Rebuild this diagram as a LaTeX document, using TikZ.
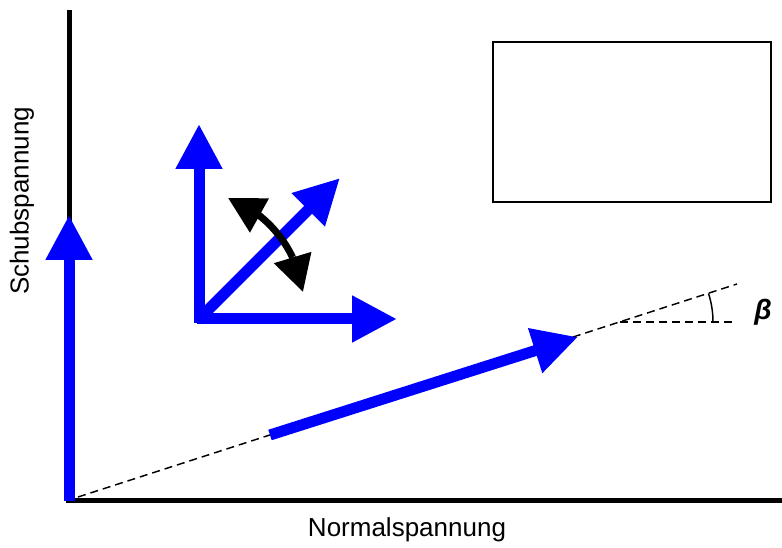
\documentclass[tikz,border=0pt]{standalone}
\usepackage{fontspec}
\setmainfont{Liberation Sans}
\usetikzlibrary{arrows.meta}

\begin{document}
\begin{tikzpicture}[x=0.75pt, y=-0.75pt, font=\fontsize{19.5}{22}\selectfont,
    vec/.style={blue, line width=8.25pt, -{Triangle[length=33.75pt, width=33pt]}},
    achse/.style={line width=3.75pt},
    hilfs/.style={line width=1.1pt, dash pattern=on 6pt off 3.75pt},
    drehspitze/.style={line width=5.25pt, -{Triangle[length=27pt, width=28pt]}}]
    \useasboundingbox (0,0) rectangle (782,548);

    % Achsen
    \coordinate (ursprung) at (69,501);
    \coordinate (yende) at (69,10);
    \coordinate (xende) at (782,501);
    \draw[achse] (yende) -- (ursprung);
    \draw[achse] ([xshift=-2.5pt]ursprung) -- (xende);
    \node[rotate=90] (ylabel) at (22,201) {Schubspannung};
    \node (xlabel) at (407,530) {Normalspannung};

    % Schubspannung-Vektor
    \coordinate (tauspitze) at (69,215);
    \draw[vec] (ursprung) -- (tauspitze);

    % Gerade und Winkel beta
    \coordinate (gstart) at (78,497);
    \coordinate (gende) at (737,284);
    \coordinate (wscheitel) at (620,322);
    \coordinate (hende) at (737,322);
    \draw[hilfs] (gstart) -- (gende);
    \draw[hilfs] (wscheitel) -- (hende);
    \draw[line width=1.1pt] ([xshift=69.75pt]wscheitel) arc[start angle=0, end angle=-17.9, radius=93];
    \node (beta) at (763,312) {\fontsize{21}{24}\selectfont\textbf{\textit{β}}};

    % Spannungsvektor
    \coordinate (sstart) at (270,435);
    \coordinate (sspitze) at (578,337);
    \draw[vec] (sstart) -- (sspitze);

    % Koordinatenkreuz
    \coordinate (k) at (199,319);
    \coordinate (kx) at (397,319);
    \coordinate (ky) at (199,124);
    \coordinate (kd) at (340,178);
    \draw[vec] ([yshift=-3pt]k) -- (ky);
    \draw[vec] ([xshift=-1.5pt]k) -- (kx);
    \draw[vec] (k) -- (kd);

    % Drehung
    \coordinate (dbasisa) at (258.6,215);
    \coordinate (dspitzea) at (228,198);
    \coordinate (dbasisb) at (292.5,257.2);
    \coordinate (dspitzeb) at (303,292);
    \draw[line width=5.25pt] (dbasisa) arc[start angle=-52, end angle=-25.5, radius=118];
    \draw[drehspitze] (dbasisa) -- (dspitzea);
    \draw[drehspitze] (dbasisb) -- (dspitzeb);

    % Kasten
    \node[draw, line width=1.5pt, minimum width=208.5pt, minimum height=120pt, inner sep=0pt] (kasten) at (632,122.5) {};
\end{tikzpicture}
\end{document}
